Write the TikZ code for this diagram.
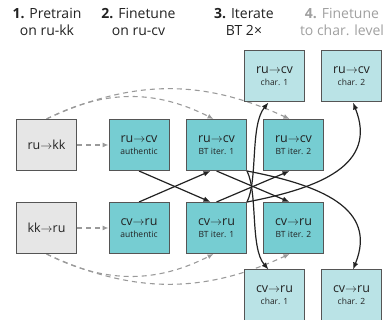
\documentclass[tikz,border=0pt]{standalone}
\usepackage{fontspec}
\setmainfont{Open Sans}
\usetikzlibrary{arrows.meta,backgrounds}
\definecolor{teal1}{HTML}{76CDD2}
\definecolor{teal2}{HTML}{BAE3E6}
\definecolor{gbox}{HTML}{E6E6E6}
\definecolor{bord}{HTML}{555555}
\definecolor{dashc}{HTML}{9A9A9A}
\definecolor{ink}{HTML}{222222}
\definecolor{htxt}{HTML}{A0A0A0}
\newcommand\mlab[2]{{\fontsize{12.5}{13}\selectfont #1}\\{#2}}
\begin{document}
\begin{tikzpicture}[x=1pt,y=1pt,
  mbox/.style={draw=bord, line width=1pt, minimum width=60pt, minimum height=51pt,
    inner sep=0pt, align=center, text=ink, font=\fontsize{8.5}{12}\selectfont},
  gbx/.style={mbox, fill=gbox},
  tbx/.style={mbox, fill=teal1},
  lbx/.style={mbox, fill=teal2},
  dsh/.style={draw=dashc, line width=1.1pt, dash pattern=on 5pt off 4pt, -{Latex[length=6pt,width=5pt]}},
  sol/.style={draw=ink, line width=1.2pt, -{Latex[length=7pt,width=5.5pt]}},
  hd/.style={align=center, font=\fontsize{14}{17}\selectfont, text=ink}
]
\useasboundingbox (0,0) rectangle (386,320);

\node[hd] (h1) at (47,298) {\textbf{1.} Pretrain\\on ru-kk};
\node[hd] (h2) at (138.5,298) {\textbf{2.} Finetune\\on ru-cv};
\node[hd] (h3) at (244,298) {\textbf{3.} Iterate\\BT 2×};
\node[hd, text=htxt] (h4) at (342,298) {\textbf{4.} Finetune\\to char. level};

\node[gbx] (rk) at (46.5,175) {\fontsize{12.5}{13}\selectfont ru$\rightarrow$kk};
\node[gbx] (kr) at (46.5,92) {\fontsize{12.5}{13}\selectfont kk$\rightarrow$ru};
\node[tbx] (aRC) at (139,175) {\mlab{ru$\rightarrow$cv}{authentic}};
\node[tbx] (aCR) at (139,92) {\mlab{cv$\rightarrow$ru}{authentic}};
\node[tbx] (b1RC) at (216.5,175) {\mlab{ru$\rightarrow$cv}{BT iter. 1}};
\node[tbx] (b1CR) at (216.5,92) {\mlab{cv$\rightarrow$ru}{BT iter. 1}};
\node[tbx] (b2RC) at (293.5,175) {\mlab{ru$\rightarrow$cv}{BT iter. 2}};
\node[tbx] (b2CR) at (293.5,92) {\mlab{cv$\rightarrow$ru}{BT iter. 2}};
\node[lbx] (c1RC) at (274.5,243.5) {\mlab{ru$\rightarrow$cv}{char. 1}};
\node[lbx] (c2RC) at (351.5,243.5) {\mlab{ru$\rightarrow$cv}{char. 2}};
\node[lbx] (c1CR) at (274.5,24.5) {\mlab{cv$\rightarrow$ru}{char. 1}};
\node[lbx] (c2CR) at (351.5,24.5) {\mlab{cv$\rightarrow$ru}{char. 2}};

\begin{scope}[on background layer]
\draw[dsh] (rk) -- (aRC);
\draw[dsh] (kr) -- (aCR);
\draw[dsh] (rk.north) to[out=27,in=153] ([xshift=-3pt]b1RC.north);
\draw[dsh] (rk.north) to[out=25,in=155] ([xshift=-4pt]b2RC.north);
\draw[dsh] (kr.south) to[out=-27,in=-153] ([xshift=-3pt]b1CR.south);
\draw[dsh] (kr.south) to[out=-25,in=-155] ([xshift=-4pt]b2CR.south);

\draw[sol] (aRC.south) -- ([xshift=-6pt]b1CR.north);
\draw[sol] (aCR.north) -- ([xshift=-6pt]b1RC.south);
\draw[sol] (b1RC.south) -- ([xshift=-4pt]b2CR.north);
\draw[sol] (b1CR.north) -- ([xshift=-4pt]b2RC.south);

\draw[sol] (b1CR.north east) .. controls (258,140) and (250,195) .. ([xshift=-6pt]c1RC.south);
\draw[sol] (b1RC.south east) .. controls (258,127) and (250,72) .. ([xshift=-6pt]c1CR.north);
\draw[sol] (b1CR.north east) .. controls (320,132) and (378,155) .. ([xshift=1.5pt]c2RC.south);
\draw[sol] (b1RC.south east) .. controls (320,135) and (378,112) .. ([xshift=1.5pt]c2CR.north);
\end{scope}
\end{tikzpicture}
\end{document}
